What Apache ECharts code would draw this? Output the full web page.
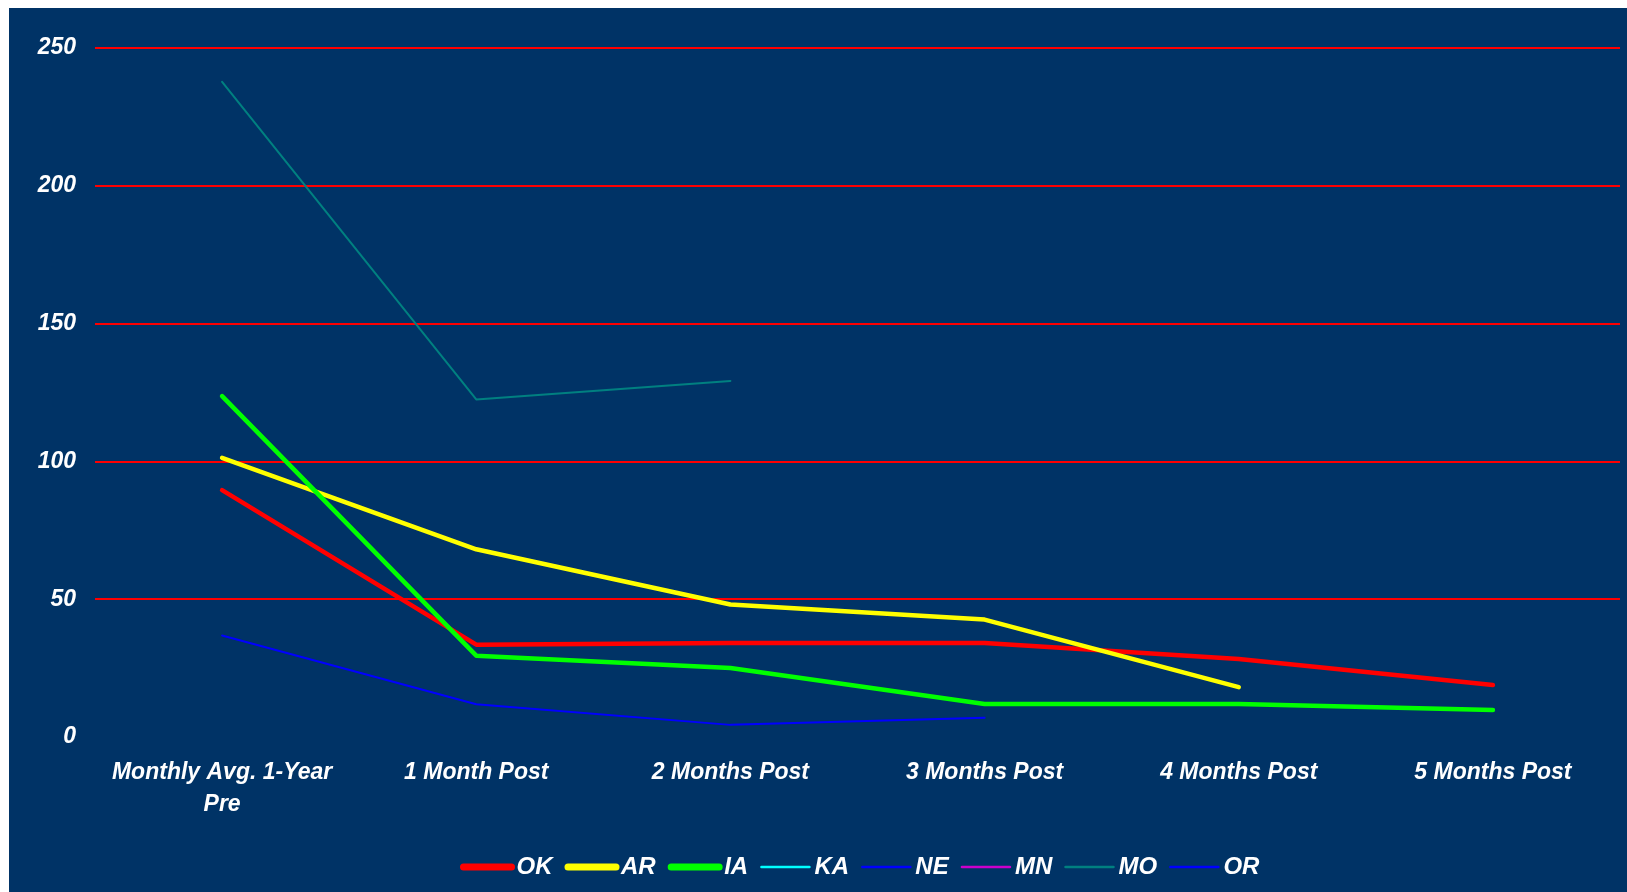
<!DOCTYPE html>
<html lang="en">

<head>
    <meta charset="UTF-8">
    <title>Monthly counts by state</title>
    <script src="https://cdn.jsdelivr.net/npm/echarts@6/dist/echarts.min.js"></script>
    <style>
        html, body {
            margin: 0;
            padding: 0;
            background: #ffffff;
        }
        #box {
            position: absolute;
            left: 9px;
            top: 8px;
            width: 1618px;
            height: 884px;
            background: #003366;
        }
    </style>
</head>

<body>
    <div id="box"></div>
    <script>
        // categories
        const periods = ['Monthly Avg. 1-Year Pre', '1 Month Post', '2 Months Post', '3 Months Post', '4 Months Post', '5 Months Post']
        // y ticks
        const yTicks = [0, 50, 100, 150, 200, 250]
        // series values (null = no data)
        const okData = [89.6, 33.5, 34.1, 34.1, 28.3, 18.9]
        const arData = [101.3, 68.1, 48.1, 42.6, 18.1, null]
        const iaData = [123.7, 29.5, 25.0, 12.0, 12.0, 9.8]
        const kaData = [null, null, null, null, null, null]
        const neData = [36.8, 11.9, 4.4, 7.0, null, null]
        const mnData = [null, null, null, null, null, null]
        const moData = [237.7, 122.5, 129.2, null, null, null]
        const orData = [null, null, null, null, null, null]

        const labelFont = {
            color: '#ffffff',
            fontFamily: 'Liberation Sans',
            fontStyle: 'italic',
            fontWeight: 'bold',
            fontSize: 23
        }

        // thick or thin line series
        function makeLine(name, data, color, width) {
            return {
                name: name,
                type: 'line',
                data: data,
                symbol: 'none',
                connectNulls: false,
                lineStyle: { color: color, width: width, cap: 'round', join: 'round' },
                itemStyle: { color: color },
                emphasis: { disabled: true }
            }
        }

        // legend entry, line only
        function legendItem(name, width) {
            return { name: name, itemStyle: { opacity: 0 }, lineStyle: { width: width, cap: 'round' } }
        }

        var myChart = echarts.init(document.getElementById('box'))
        var option = {
            animation: false,
            grid: {
                left: 86,
                right: 7,
                top: 40,
                bottom: 155
            },
            legend: {
                left: 446,
                top: 842,
                itemWidth: 48,
                itemHeight: 14,
                itemGap: 12,
                itemStyle: { opacity: 0 },
                textStyle: Object.assign({}, labelFont, { fontSize: 24 }),
                data: [
                    legendItem('OK', 7), legendItem('AR', 7), legendItem('IA', 7),
                    legendItem('KA', 2.5), legendItem('NE', 2.5), legendItem('MN', 2.5),
                    legendItem('MO', 2.5), legendItem('OR', 2.5)
                ]
            },
            xAxis: {
                type: 'category',
                data: periods,
                boundaryGap: true,
                axisLine: { show: false },
                axisTick: { show: false },
                axisLabel: Object.assign({}, labelFont, {
                    margin: 20,
                    lineHeight: 32,
                    interval: 0,
                    formatter: function (v) { return v.replace(' Pre', '\nPre') }
                })
            },
            yAxis: {
                type: 'value',
                min: yTicks[0],
                max: yTicks[yTicks.length - 1],
                interval: 50,
                axisLine: { show: false },
                axisTick: { show: false },
                axisLabel: Object.assign({}, labelFont, { margin: 19 }),
                splitLine: { showMinLine: false, lineStyle: { color: '#ff0000', width: 2 } }
            },
            series: [
                makeLine('OK', okData, '#ff0000', 4.5),
                makeLine('AR', arData, '#ffff00', 4.5),
                makeLine('IA', iaData, '#00ff00', 4.5),
                makeLine('KA', kaData, '#00ffff', 2),
                makeLine('NE', neData, '#0000ff', 2),
                makeLine('MN', mnData, '#cc00cc', 2),
                makeLine('MO', moData, '#008080', 2),
                makeLine('OR', orData, '#0000ff', 2)
            ]
        }
        myChart.setOption(option)
    </script>
</body>

</html>
